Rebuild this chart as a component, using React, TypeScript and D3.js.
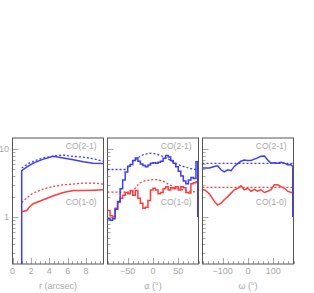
import React from "react";
import * as d3 from "d3";

// ---- data ----
const rVals = [1, 1.54, 1.9, 2.26, 3.35, 4.44, 5.53, 6.6, 7.7, 8.78, 9.9];
const rCO21 = [4.8, 5.4, 5.8, 6.2, 7.1, 7.8, 7.4, 6.95, 6.5, 6.2, 6.1];
const rCO21model = [5.25, 5.9, 6.3, 6.6, 7.4, 7.9, 8.15, 7.8, 7.6, 7.2, 6.6];
const rCO10 = [1.2, 1.25, 1.43, 1.57, 1.8, 2.06, 2.3, 2.46, 2.46, 2.48, 2.52];
const rCO10model = [1.64, 1.9, 2.1, 2.25, 2.58, 2.82, 2.98, 3.05, 3.16, 3.16, 3.05];

// alpha: 5-degree bins from -90 to 90
const alphaBinStart = d3.range(-90, 90, 5);
const aCO21 = [0.95, 0.9, 0.95, 1.3, 1.7, 2.6, 3.5, 4.6, 5.6, 5.9, 6.8, 7.4, 6.6, 6.0, 5.7, 5.5, 5.8, 6.2,
  6.3, 6.2, 6.4, 6.6, 7.3, 8.0, 7.6, 6.8, 6.2, 5.5, 4.7, 4.0, 3.4, 3.1, 3.5, 3.8, 3.7, 6.5];
const aCO10 = [1.25, 1.05, 1.0, 1.35, 1.65, 1.9, 2.1, 2.3, 2.2, 2.45, 2.1, 2.45, 1.9, 1.6, 1.35, 1.4, 1.75, 2.5,
  2.65, 2.5, 2.2, 2.3, 2.6, 2.8, 2.5, 2.7, 2.6, 2.8, 2.5, 2.8, 2.7, 2.3, 2.25, 3.1, 3.2, 3.3];
const aModelX21 = [-90, -53, -40, -30, -20, -7, 6, 19, 32, 45, 58, 72, 85, 90];
const aCO21model = [5.0, 5.0, 6.6, 7.4, 8.2, 8.7, 8.5, 7.8, 7.0, 6.1, 5.6, 5.2, 5.0, 5.0];
const aModelX10 = [-90, -47, -40, -34, -27, -14, 0, 6, 19, 32, 45, 59, 72, 85, 90];
const aCO10model = [2.33, 2.33, 2.45, 2.7, 3.15, 3.45, 3.55, 3.55, 3.4, 3.0, 2.7, 2.5, 2.4, 2.33, 2.33];

// omega
const wVals = [-180, -172, -153, -133, -120, -107, -94, -80, -67, -54, -41, -28, -15, -1, 12, 25, 38, 51, 65, 78, 91, 104, 117, 131, 144, 157, 170, 180];
const wCO21 = [5.25, 5.25, 5.25, 5.55, 5.65, 4.95, 4.6, 4.95, 4.8, 5.55, 6.1, 6.6, 6.9, 6.8, 6.8, 7.1, 7.4, 7.8, 7.9, 6.9, 6.2, 6.3, 6.2, 6.4, 6.2, 5.85, 5.85, 5.4];
const wCO10 = [2.52, 2.52, 2.2, 1.7, 1.5, 1.6, 1.8, 2.0, 2.25, 2.52, 2.65, 2.88, 2.52, 2.65, 2.4, 2.55, 2.4, 2.52, 2.3, 2.4, 2.52, 2.98, 2.98, 2.8, 2.65, 2.4, 2.3, 2.3];
const wCO21model = [6.15, 6.15];
const wCO10model = [2.73, 2.73];
const wModelX = [-180, 180];

const yTickLabels = ["1", "10"];
const lineLabels = ["CO(2-1)", "CO(1-0)"];

const BLUE = "#3c3cff";
const RED = "#ff3c3c";
const GREY = "#a8a8a8";
const FRAME = "#555";

const TOP = 138;
const BOTTOM = 264;
const y = d3.scaleLog().domain([0.205, 14.5]).range([BOTTOM, TOP]);

type Panel = {
  x0: number; x1: number; domain: [number, number]; major: number[]; minorStep: number; title: string;
};
const panels: Panel[] = [
  { x0: 12.5, x1: 103.5, domain: [0, 9.9], major: [0, 2, 4, 6, 8], minorStep: 0.5, title: "r (arcsec)" },
  { x0: 107.5, x1: 198.5, domain: [-90, 90], major: [-50, 0, 50], minorStep: 10, title: "α (°)" },
  { x0: 202.5, x1: 293.5, domain: [-180, 180], major: [-100, 0, 100], minorStep: 20, title: "ω (°)" },
];

function zip(xs: number[], ys: number[]): [number, number][] {
  return xs.map((v, i) => [v, ys[i]]);
}

function Frame({ p, idx, children }: { p: Panel; idx: number; children: (x: d3.ScaleLinear<number, number>) => React.ReactNode }) {
  const x = d3.scaleLinear().domain(p.domain).range([p.x0, p.x1]);
  const minors = d3.range(Math.ceil(p.domain[0] / p.minorStep) * p.minorStep, p.domain[1] + 1e-9, p.minorStep);
  const yMinor = [0.3, 0.4, 0.5, 0.6, 0.7, 0.8, 0.9, 2, 3, 4, 5, 6, 7, 8, 9];
  const yMajor = [1, 10];
  const cx = (p.x0 + p.x1) / 2;
  return (
    <g>
      <defs>
        <clipPath id={`clip${idx}`}>
          <rect x={p.x0} y={TOP} width={p.x1 - p.x0} height={BOTTOM - TOP} />
        </clipPath>
      </defs>
      {minors.map((m, i) => (
        <line key={"xm" + i} x1={Math.round(x(m)) + 0.5} x2={Math.round(x(m)) + 0.5} y1={BOTTOM} y2={BOTTOM - 3} stroke={GREY} strokeWidth={1} />
      ))}
      {p.major.map((m, i) => (
        <g key={"xM" + i}>
          <line x1={Math.round(x(m)) + 0.5} x2={Math.round(x(m)) + 0.5} y1={BOTTOM} y2={BOTTOM - 6} stroke={GREY} strokeWidth={1} />
          <text x={x(m)} y={274} textAnchor="middle" fontSize={9} fill={GREY} fontFamily="Liberation Sans, Arial, sans-serif">
            {m < 0 ? "\u2212" + Math.abs(m) : String(m)}
          </text>
        </g>
      ))}
      {yMinor.map((v, i) => (
        <line key={"ym" + i} x1={p.x0} x2={p.x0 + 3} y1={Math.round(y(v)) + 0.5} y2={Math.round(y(v)) + 0.5} stroke={GREY} strokeWidth={1} />
      ))}
      {yMajor.map((v, i) => (
        <line key={"yM" + i} x1={p.x0} x2={p.x0 + 6} y1={Math.round(y(v)) + 0.5} y2={Math.round(y(v)) + 0.5} stroke={GREY} strokeWidth={1} />
      ))}
      <g clipPath={`url(#clip${idx})`}>{children(x)}</g>
      <rect x={p.x0} y={TOP} width={p.x1 - p.x0} height={BOTTOM - TOP} fill="none" stroke={FRAME} strokeWidth={1} />
      <text x={p.x1 - 7} y={149} textAnchor="end" fontSize={8.5} fill={GREY} fontFamily="Liberation Sans, Arial, sans-serif">{lineLabels[0]}</text>
      <text x={p.x1 - 7} y={205} textAnchor="end" fontSize={8.5} fill={GREY} fontFamily="Liberation Sans, Arial, sans-serif">{lineLabels[1]}</text>
      <text x={cx} y={289} textAnchor="middle" fontSize={9} fill={GREY} fontFamily="Liberation Sans, Arial, sans-serif">{p.title}</text>
    </g>
  );
}

export default function App() {
  const lineGen = (x: d3.ScaleLinear<number, number>, curve: d3.CurveFactory = d3.curveLinear) =>
    d3.line<[number, number]>().x((d) => x(d[0])).y((d) => y(d[1])).curve(curve);

  const solid = { fill: "none", strokeWidth: 1.5 };
  const dotted = { fill: "none", strokeWidth: 1.3, strokeDasharray: "2,2" };

  return (
    <svg width={314} height={293} style={{ position: "absolute", left: 0, top: 0, background: "#fff" }}>
      {yTickLabels.map((t) => (
        <text key={t} x={9} y={y(+t) + 3} textAnchor="end" fontSize={9} fill={GREY} fontFamily="Liberation Sans, Arial, sans-serif">{t}</text>
      ))}
      <Frame p={panels[0]} idx={0}>
        {(x) => {
          const lg = lineGen(x);
          const start: [number, number] = [rVals[0], y.domain()[0]];
          return (
            <g>
              <path d={lg(zip(rVals, rCO21model))!} stroke={BLUE} {...dotted} />
              <path d={lg(zip(rVals, rCO10model))!} stroke={RED} {...dotted} />
              <path d={lg([start, ...zip(rVals, rCO21)])!} stroke={BLUE} {...solid} />
              <path d={lg(zip(rVals, rCO10))!} stroke={RED} {...solid} />
            </g>
          );
        }}
      </Frame>
      <Frame p={panels[1]} idx={1}>
        {(x) => {
          const st = lineGen(x, d3.curveStepAfter);
          const lg = lineGen(x);
          const b21: [number, number][] = [...zip(alphaBinStart, aCO21), [90, aCO21[aCO21.length - 1]]];
          const b10: [number, number][] = [...zip(alphaBinStart, aCO10), [90, aCO10[aCO10.length - 1]]];
          const drop = `M${x(90) - 0.75},${y(aCO21[aCO21.length - 1])}V${y(1)}`;
          return (
            <g>
              <path d={lg(zip(aModelX21, aCO21model))!} stroke={BLUE} {...dotted} />
              <path d={lg(zip(aModelX10, aCO10model))!} stroke={RED} {...dotted} />
              <path d={st(b10)!} stroke={RED} {...solid} />
              <path d={st(b21)!} stroke={BLUE} {...solid} />
              <path d={drop} stroke={BLUE} {...solid} />
            </g>
          );
        }}
      </Frame>
      <Frame p={panels[2]} idx={2}>
        {(x) => {
          const lg = lineGen(x);
          const drop = `M${x(180) - 0.75},${y(wCO21[wCO21.length - 1])}V${y(1)}`;
          return (
            <g>
              <path d={lg(zip(wModelX, wCO21model))!} stroke={BLUE} {...dotted} />
              <path d={lg(zip(wModelX, wCO10model))!} stroke={RED} {...dotted} />
              <path d={lg(zip(wVals, wCO10))!} stroke={RED} {...solid} />
              <path d={lg(zip(wVals, wCO21))!} stroke={BLUE} {...solid} />
              <path d={drop} stroke={BLUE} {...solid} />
            </g>
          );
        }}
      </Frame>
    </svg>
  );
}
